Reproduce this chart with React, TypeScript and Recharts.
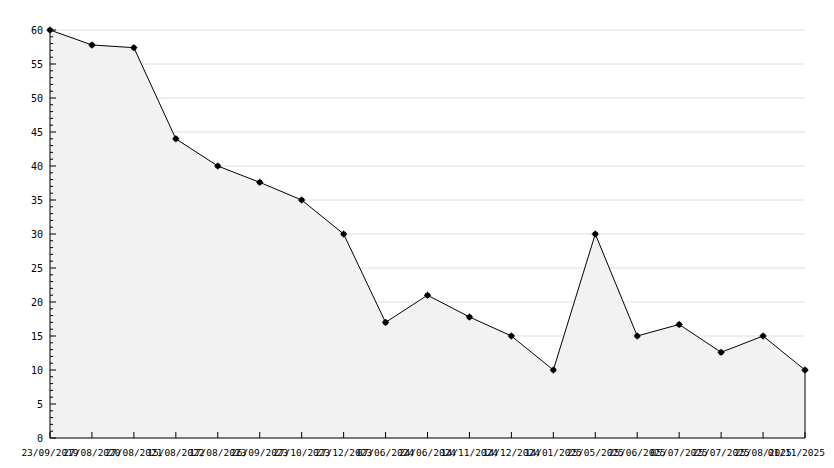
import React from 'react';
import { AreaChart, Area, XAxis, YAxis, CartesianGrid, ReferenceLine } from 'recharts';

const dates = [
  '23/09/2019', '27/08/2020', '27/08/2021', '15/08/2022', '17/08/2023',
  '26/09/2023', '27/10/2023', '27/12/2023', '07/06/2024', '24/06/2024',
  '14/11/2024', '14/12/2024', '14/01/2025', '25/05/2025', '25/06/2025',
  '05/07/2025', '25/07/2025', '25/08/2025', '01/11/2025',
];
const values = [60, 57.8, 57.4, 44, 40, 37.6, 35, 30, 17, 21, 17.8, 15, 10, 30, 15, 16.7, 12.6, 15, 10];
const majorTicks = [0, 5, 10, 15, 20, 25, 30, 35, 40, 45, 50, 55, 60];
const allTicks = Array.from({ length: 61 }, (_, i) => i);

const data = dates.map((d, i) => ({ date: d, value: values[i] }));

const FONT = '"DejaVu Sans Mono", monospace';
const LAST = dates[dates.length - 1];

const YTick = (props: any) => {
  const { x, y, payload } = props;
  const major = payload.value % 5 === 0;
  return (
    <g>
      <line x1={x} y1={y} x2={x + (major ? 6 : 3)} y2={y} stroke="#000" strokeWidth={1} />
      {major && (
        <text x={x - 7} y={y} textAnchor="end" dominantBaseline="central" fontFamily={FONT} fontSize={10} fill="#000">
          {payload.value}
        </text>
      )}
    </g>
  );
};

const XTick = (props: any) => {
  const { x, y, payload } = props;
  const isLast = payload.value === LAST;
  return (
    <g>
      <line x1={x} y1={y} x2={x} y2={y - 6} stroke="#000" strokeWidth={1} />
      <text
        x={isLast ? x + 20 : x}
        y={y + 14}
        textAnchor={isLast ? 'end' : 'middle'}
        dominantBaseline="central"
        fontFamily={FONT}
        fontSize={9.5}
        fill="#000"
      >
        {payload.value}
      </text>
    </g>
  );
};

const Dot = (props: any) => {
  const { cx, cy } = props;
  if (cx == null || cy == null) return null;
  return (
    <g>
      <circle cx={cx} cy={cy} r={2.8} fill="#000" />
      <line x1={cx - 3.5} y1={cy} x2={cx + 3.5} y2={cy} stroke="#000" strokeWidth={1} />
      <line x1={cx} y1={cy - 3.5} x2={cx} y2={cy + 3.5} stroke="#000" strokeWidth={1} />
    </g>
  );
};

export default function App() {
  const lastVal = values[values.length - 1];
  return (
    <div style={{ position: 'absolute', left: 0, top: 0, width: 834, height: 468, background: '#fff' }}>
      <AreaChart width={834} height={468} data={data} margin={{ top: 30, right: 29, bottom: 0, left: 0 }}>
        <CartesianGrid vertical={false} stroke="#dedede" horizontalValues={majorTicks} />
        <XAxis
          dataKey="date"
          type="category"
          scale="point"
          padding={{ left: 0, right: 0 }}
          interval={0}
          height={30}
          tickSize={0}
          tickMargin={0}
          tickLine={false}
          axisLine={{ stroke: '#000' }}
          tick={<XTick />}
        />
        <YAxis
          type="number"
          domain={[0, 60]}
          ticks={allTicks}
          interval={0}
          width={50}
          tickSize={0}
          tickMargin={0}
          tickLine={false}
          axisLine={{ stroke: '#000' }}
          tick={<YTick />}
        />
        <Area
          type="linear"
          dataKey="value"
          stroke="#000"
          strokeWidth={1}
          fill="#f2f2f2"
          fillOpacity={1}
          dot={<Dot />}
          activeDot={false}
          isAnimationActive={false}
        />
        <ReferenceLine segment={[{ x: LAST, y: 0 }, { x: LAST, y: lastVal }]} stroke="#000" strokeWidth={1} />
      </AreaChart>
    </div>
  );
}
